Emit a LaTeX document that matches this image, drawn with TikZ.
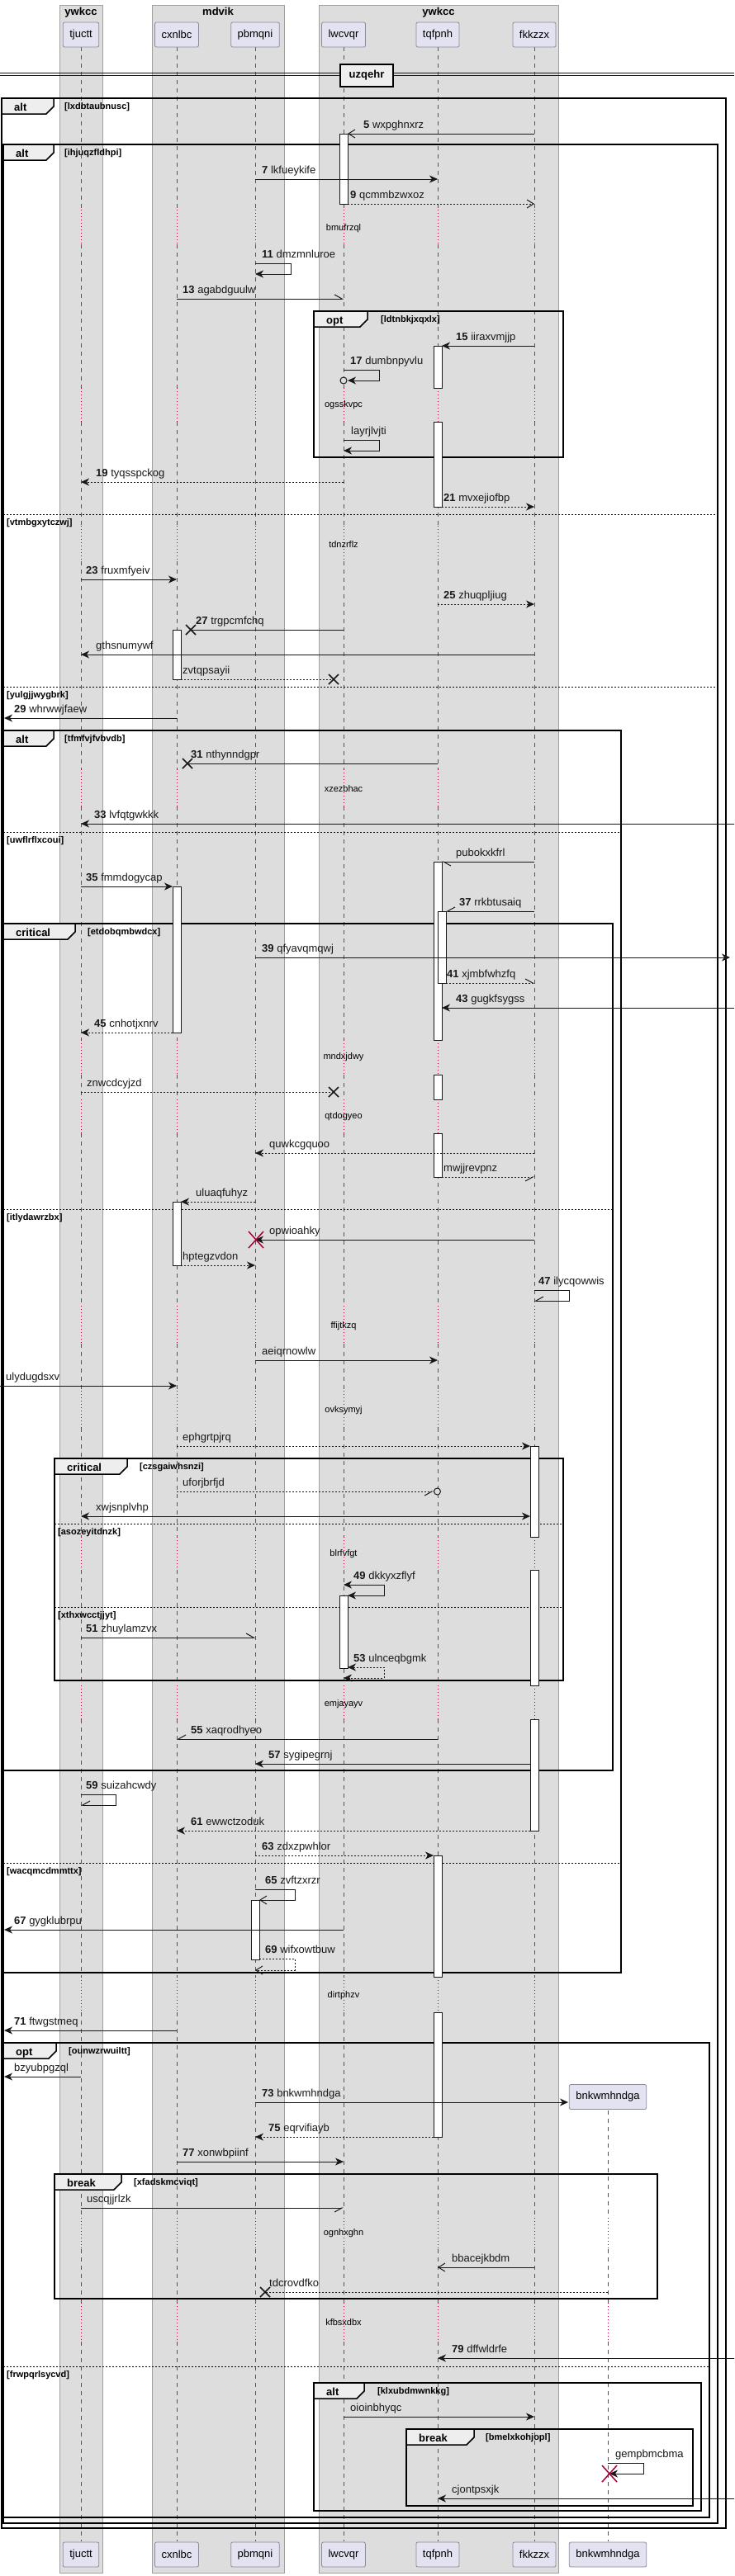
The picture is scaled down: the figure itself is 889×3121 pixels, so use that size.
\documentclass[tikz,border=0pt]{standalone}
\usepackage{fontspec}
\setmainfont{Liberation Sans}
\usepackage{xcolor}
\definecolor{boxgray}{HTML}{DDDDDD}
\definecolor{boxedge}{HTML}{A0A0A0}
\definecolor{partfill}{HTML}{E2E2F0}
\definecolor{partedge}{HTML}{8A8A9A}
\definecolor{delayred}{HTML}{A80036}
\definecolor{tabfill}{HTML}{EEEEEE}
\definecolor{lifegray}{HTML}{555555}
\definecolor{ink}{HTML}{181818}
\usepackage{tikz}
\usetikzlibrary{arrows.meta}

\tikzset{
  msgtext/.style={font=\fontsize{13}{15}\selectfont, anchor=base west, inner sep=0pt, text=ink},
  guardtext/.style={font=\fontsize{11}{13}\selectfont\bfseries, anchor=base west, inner sep=0pt},
  kwtext/.style={font=\fontsize{13}{15}\selectfont\bfseries, anchor=base west, inner sep=0pt},
  delaytext/.style={font=\fontsize{11}{13}\selectfont, inner sep=0pt},
  grptext/.style={font=\fontsize{13}{15}\selectfont\bfseries, anchor=base, inner sep=0pt},
  part/.style={draw=partedge, fill=partfill, rounded corners=2pt, minimum height=30pt,
    inner xsep=8pt, font=\fontsize{13}{15}\selectfont, line width=0.8pt},
  msgline/.style={draw=ink, line width=1pt},
  ret/.style={dash pattern=on 2pt off 2pt},
  tipfull/.style={-{Stealth[length=10pt,width=9pt,inset=3pt]}},
  tipopen/.style={-{Straight Barb[length=8pt,width=10pt]}},
  tipharp/.style={-{Straight Barb[harpoon,length=9pt,width=10pt]}},
  tipharpsw/.style={-{Straight Barb[harpoon,swap,length=9pt,width=10pt]}},
  tipboth/.style={{Stealth[length=10pt,width=9pt,inset=3pt]}-{Stealth[length=10pt,width=9pt,inset=3pt]}},
  lifeline/.style={draw=lifegray, line width=0.8pt, dash pattern=on 5pt off 5pt},
  delayline/.style={draw=delayred, line width=0.8pt, dash pattern=on 1pt off 3pt},
  actbar/.style={draw=ink, fill=white, line width=0.8pt},
  frameline/.style={draw=black, line width=1.5pt},
  elseline/.style={draw=black, line width=0.8pt, dash pattern=on 2pt off 2pt},
}

% message: name, x from, x to, y, tips, label x, label
\newcommand{\msg}[7]{%
  \coordinate (#1s) at (#2,#4);
  \coordinate (#1e) at (#3,#4);
  \draw[msgline,#5] (#1s) -- (#1e);
  \node[msgtext] (#1t) at (#6,#4-7) {#7};
}
% self message: name, x start, x end, x right, y top, y bottom, tips, label x, label
\newcommand{\selfmsg}[9]{%
  \coordinate (#1s) at (#2,#5);
  \coordinate (#1e) at (#3,#6);
  \draw[msgline,#7] (#1s) -- (#4,#5) -- (#4,#6) -- (#1e);
  \node[msgtext] (#1t) at (#8,#5-7) {#9};
}
% group frame: name, x0, y0, x1, y1, keyword, tab right, guard x, guard
\newcommand{\grp}[9]{%
  \draw[frameline] (#2,#3) rectangle (#4,#5);
  \draw[frameline,fill=tabfill] (#2,#3) -- (#7,#3) -- (#7,#3+10) -- (#7-9,#3+19) -- (#2,#3+19) -- cycle;
  \node[kwtext] (#1k) at (#2+15,#3+15.5) {#6};
  \node[guardtext] (#1g) at (#8,#3+13.5) {[#9]};
}
\newcommand{\elseline}[5]{%
  \draw[elseline] (#2,#4) -- (#3,#4);
  \node[guardtext] (#1) at (#2+4,#4+13) {[#5]};
}
\newcommand{\act}[3]{\draw[actbar] (#1-5,#2) rectangle (#1+5,#3);}
\newcommand{\xcross}[2]{\draw[line width=1.6pt,ink] (#1-6,#2-6) -- (#1+6,#2+6) (#1-6,#2+6) -- (#1+6,#2-6);}
\newcommand{\xdestroy}[2]{\draw[line width=1.5pt,delayred] (#1-9,#2-10) -- (#1+9,#2+10) (#1-9,#2+10) -- (#1+9,#2-10);}

\begin{document}
\begin{tikzpicture}[x=1pt,y=-1pt]
\useasboundingbox (0,0) rectangle (889,3121);

% boxes
\draw[fill=boxgray,draw=boxedge,line width=0.8pt] (72,6) rectangle (124,3117);
\draw[fill=boxgray,draw=boxedge,line width=0.8pt] (184,6) rectangle (344,3117);
\draw[fill=boxgray,draw=boxedge,line width=0.8pt] (386,6) rectangle (676,3117);
\node[grptext] (box1) at (98,18) {ywkcc};
\node[grptext] (box2) at (264,18) {mdvik};
\node[grptext] (box3) at (531,18) {ywkcc};

% lifelines, dotted where delayed
\foreach \px in {98,214,309,416,530,647}{
  \foreach \ya/\yb in {57/254,296/470,511/637,680/932,977/1260,1302/1332,1373/1582,1628/1685,1730/1862,1902/2042,2083/2395,2438/2687,2725/2790,2837/3079}
    \draw[lifeline] (\px,\ya) -- (\px,\yb);
  \foreach \ya/\yb in {254/296,470/511,637/680,932/977,1260/1302,1332/1373,1582/1628,1685/1730,1862/1902,2042/2083,2395/2438,2687/2725,2790/2837}
    \draw[delayline] (\px,\ya) -- (\px,\yb);
}
\foreach \ya/\yb in {2557/2687,2725/2790,2837/3079}
  \draw[lifeline] (736,\ya) -- (736,\yb);
\foreach \ya/\yb in {2687/2725,2790/2837}
  \draw[delayline] (736,\ya) -- (736,\yb);

% delay texts
\node[delaytext] (d1) at (416,277) {bmufrzql};
\node[delaytext] (d2) at (416,491) {ogsskvpc};
\node[delaytext] (d3) at (416,660) {tdnzrflz};
\node[delaytext] (d4) at (416,956) {xzezbhac};
\node[delaytext] (d5) at (416,1281) {mndxjdwy};
\node[delaytext] (d6) at (416,1353) {qtdogyeo};
\node[delaytext] (d7) at (416,1607) {ffijtkzq};
\node[delaytext] (d8) at (416,1709) {ovksymyj};
\node[delaytext] (d9) at (416,1883) {blrfvfgt};
\node[delaytext] (d10) at (416,2065) {emjayayv};
\node[delaytext] (d11) at (416,2418) {dirtphzv};
\node[delaytext] (d12) at (416,2706) {ognhxghn};
\node[delaytext] (d13) at (416,2814) {kfbsxdbx};

% separator
\draw[ink,line width=0.8pt] (0,88.5) -- (889,88.5) (0,91.5) -- (889,91.5);
\node[fill=tabfill,draw=black,line width=1.5pt,minimum width=64pt,minimum height=27pt,
  font=\fontsize{13}{15}\selectfont\bfseries] (sep) at (444,91.5) {uzqehr};

% frames
\grp{fa}{2}{119}{879}{3063}{alt}{65}{78}{lxdbtaubnusc}
\grp{fb}{4}{175}{869}{3057}{alt}{65}{78}{ihjuqzfldhpi}
\elseline{eb1}{4}{869}{623}{vtmbgxytczwj}
\elseline{eb2}{4}{869}{832}{yulgjjwygbrk}
\grp{fc}{380}{377}{682}{554}{opt}{445}{461}{ldtnbkjxqxlx}
\grp{fd}{4}{885}{752}{2390}{alt}{65}{78}{tfmfvjfvbvdb}
\elseline{ed1}{4}{752}{1008}{uwflrflxcoui}
\elseline{ed2}{4}{752}{2257}{wacqmcdmmttx}
\grp{fe}{4}{1119}{742}{2145}{critical}{91}{106}{etdobqmbwdcx}
\elseline{ee1}{4}{742}{1465}{itlydawrzbx}
\grp{ff}{66}{1767}{682}{2036}{critical}{154}{169}{czsgaiwhsnzi}
\elseline{ef1}{66}{682}{1846}{asozeyitdnzk}
\elseline{ef2}{66}{682}{1947}{xthxwcctjjyt}
\grp{fg}{4}{2475}{859}{3050}{opt}{68}{83}{ounwzrwuiltt}
\elseline{eg1}{4}{859}{2867}{frwpqrlsycvd}
\grp{fh}{66}{2634}{796}{2785}{break}{147}{162}{xfadskmcviqt}
\grp{fi}{380}{2887}{849}{3042}{alt}{441}{457}{klxubdmwnkkg}
\grp{fj}{492}{2943}{839}{3036}{break}{574}{588}{bmelxkohjopl}

% activations
\act{416}{162}{247}
\act{530}{419}{470} \act{530}{511}{614}
\act{214}{763}{823}
\act{530}{1044}{1260} \act{530}{1302}{1332} \act{530}{1373}{1426}
\act{535}{1104}{1191}
\act{214}{1074}{1251}
\act{214}{1456}{1533}
\act{647}{1752}{1862} \act{647}{1902}{2042} \act{647}{2083}{2218}
\act{416}{1933}{2021}
\act{530}{2248}{2395} \act{530}{2438}{2589}
\act{309}{2302}{2374}

% messages
\msg{m5}{647}{421}{162}{tipopen}{440}{\textbf{5} wxpghnxrz}
\msg{m7}{309}{530}{217}{tipfull}{317}{\textbf{7} lkfueykife}
\msg{m9}{421}{647}{247}{ret,tipopen}{424}{\textbf{9} qcmmbzwxoz}
\selfmsg{m11}{309}{309}{352}{319}{332}{tipfull}{317}{\textbf{11} dmzmnluroe}
\msg{m13}{214}{416}{362}{tipharp}{221}{\textbf{13} agabdguulw}
\msg{m15}{647}{535}{419}{tipfull}{552}{\textbf{15} iiraxvmjjp}
\selfmsg{m17}{416}{421}{459}{448}{461}{tipfull}{424}{\textbf{17} dumbnpyvlu}
\draw[msgline,fill=boxgray] (416,461) circle (4pt);
\selfmsg{mlay}{416}{416}{459}{533}{546}{tipfull}{425}{layrjlvjti}
\msg{m19}{416}{98}{584}{ret,tipfull}{116}{\textbf{19} tyqsspckog}
\msg{m21}{535}{647}{614}{ret,tipfull}{537}{\textbf{21} mvxejiofbp}
\msg{m23}{98}{214}{702}{tipfull}{104}{\textbf{23} fruxmfyeiv}
\msg{m25}{530}{647}{732}{ret,tipfull}{537}{\textbf{25} zhuqpljiug}
\msg{m27}{416}{231}{763}{}{237}{\textbf{27} trgpcmfchq}
\xcross{231}{763}
\msg{mgth}{647}{98}{793}{tipfull}{116}{gthsnumywf}
\msg{mzvt}{219}{404}{823}{ret}{221}{zvtqpsayii}
\xcross{404}{823}
\msg{m29}{214}{5}{870}{tipfull}{17}{\textbf{29} whrwwjfaew}
\msg{m31}{530}{227}{925}{}{231}{\textbf{31} nthynndgpr}
\xcross{227}{925}
\msg{m33}{889}{98}{998}{tipfull}{114}{\textbf{33} lvfqtgwkkk}
\msg{mpub}{647}{535}{1044}{tipharp}{552}{pubokxkfrl}
\msg{m35}{98}{209}{1074}{tipfull}{104}{\textbf{35} fmmdogycap}
\msg{m37}{647}{540}{1104}{tipharpsw}{556}{\textbf{37} rrkbtusaiq}
\msg{m39}{309}{884}{1160}{tipfull}{317}{\textbf{39} qfyavqmqwj}
\msg{m41}{540}{647}{1191}{ret,tipharp}{541}{\textbf{41} xjmbfwhzfq}
\msg{m43}{889}{535}{1221}{tipfull}{552}{\textbf{43} gugkfsygss}
\msg{m45}{209}{98}{1251}{ret,tipfull}{114}{\textbf{45} cnhotjxnrv}
\msg{mznw}{98}{404}{1323}{ret}{105}{znwcdcyjzd}
\xcross{404}{1323}
\msg{mquw}{647}{309}{1397}{ret,tipfull}{326}{quwkcgquoo}
\msg{mmwj}{535}{647}{1426}{ret,tipharpsw}{537}{mwjjrevpnz}
\msg{mulu}{309}{219}{1456}{ret,tipfull}{237}{uluaqfuhyz}
\msg{mopw}{647}{309}{1502}{tipfull}{326}{opwioahky}
\xdestroy{310}{1502}
\msg{mhpt}{219}{309}{1533}{ret,tipfull}{221}{hptegzvdon}
\selfmsg{m47}{647}{647}{689}{1563}{1576}{tipharpsw}{652}{\textbf{47} ilycqowwis}
\msg{maei}{309}{530}{1648}{tipfull}{317}{aeiqrnowlw}
\msg{muly}{0}{214}{1679}{tipfull}{7}{ulydugdsxv}
\msg{meph}{214}{642}{1752}{ret,tipfull}{221}{ephgrtpjrq}
\msg{mufo}{214}{525}{1807}{ret,tipharpsw}{221}{uforjbrfjd}
\draw[msgline,fill=boxgray] (529.5,1807) circle (4pt);
\msg{mxwj}{98}{642}{1837}{tipboth}{116}{xwjsnplvhp}
\selfmsg{m49}{416}{421}{465}{1920}{1933}{tipboth}{428}{\textbf{49} dkkyxzflyf}
\msg{m51}{98}{309}{1984}{tipharp}{104}{\textbf{51} zhuylamzvx}
\selfmsg{m53}{421}{416}{465}{2020}{2033}{ret,tipboth}{428}{\textbf{53} ulnceqbgmk}
\msg{m55}{530}{214}{2107}{tipharpsw}{231}{\textbf{55} xaqrodhyeo}
\msg{m57}{642}{309}{2137}{tipfull}{325}{\textbf{57} sygipegrnj}
\selfmsg{m59}{98}{98}{140}{2174}{2187}{tipharpsw}{104}{\textbf{59} suizahcwdy}
\msg{m61}{642}{214}{2218}{ret,tipfull}{231}{\textbf{61} ewwctzoduk}
\msg{m63}{309}{525}{2248}{ret,tipfull}{317}{\textbf{63} zdxzpwhlor}
\selfmsg{m65}{309}{314}{357}{2289}{2302}{tipopen}{321}{\textbf{65} zvftzxrzr}
\msg{m67}{416}{5}{2338}{tipfull}{17}{\textbf{67} gygklubrpu}
\selfmsg{m69}{314}{309}{357}{2373}{2387}{ret,tipopen}{321}{\textbf{69} wifxowtbuw}
\msg{m71}{214}{5}{2460}{tipfull}{17}{\textbf{71} ftwgstmeq}
\msg{mbzy}{98}{5}{2516}{tipfull}{17}{bzyubpgzql}
\msg{m73}{309}{688}{2547}{tipfull}{317}{\textbf{73} bnkwmhndga}
\msg{m75}{525}{309}{2589}{ret,tipfull}{325}{\textbf{75} eqrvifiayb}
\msg{m77}{214}{416}{2619}{tipfull}{221}{\textbf{77} xonwbpiinf}
\msg{musc}{98}{416}{2675}{tipharpsw}{105}{uscqjjrlzk}
\msg{mbba}{647}{530}{2747}{tipopen}{547}{bbacejkbdm}
\msg{mtdc}{736}{321}{2777}{ret}{326}{tdcrovdfko}
\xcross{321}{2777}
\msg{m79}{889}{530}{2857}{tipfull}{547}{\textbf{79} dffwldrfe}
\msg{moio}{416}{647}{2928}{tipfull}{424}{oioinbhyqc}
\selfmsg{mgem}{736}{738}{779}{2984}{2997}{tipfull}{745}{gempbmcbma}
\xdestroy{738}{2997}
\msg{mcjo}{889}{530}{3027}{tipfull}{547}{cjontpsxjk}

% participants
\node[part] (tjuctt) at (98,42) {tjuctt};
\node[part] (cxnlbc) at (214,42) {cxnlbc};
\node[part] (pbmqni) at (309,42) {pbmqni};
\node[part] (lwcvqr) at (416,42) {lwcvqr};
\node[part] (tqfpnh) at (530,42) {tqfpnh};
\node[part] (fkkzzx) at (647,42) {fkkzzx};
\node[part] (bnkwmhndga) at (736,2540.5) {bnkwmhndga};
\node[part] (tjuctt2) at (98,3095) {tjuctt};
\node[part] (cxnlbc2) at (214,3095) {cxnlbc};
\node[part] (pbmqni2) at (309,3095) {pbmqni};
\node[part] (lwcvqr2) at (416,3095) {lwcvqr};
\node[part] (tqfpnh2) at (530,3095) {tqfpnh};
\node[part] (fkkzzx2) at (647,3095) {fkkzzx};
\node[part] (bnkwmhndga2) at (736,3095) {bnkwmhndga};
\end{tikzpicture}
\end{document}
